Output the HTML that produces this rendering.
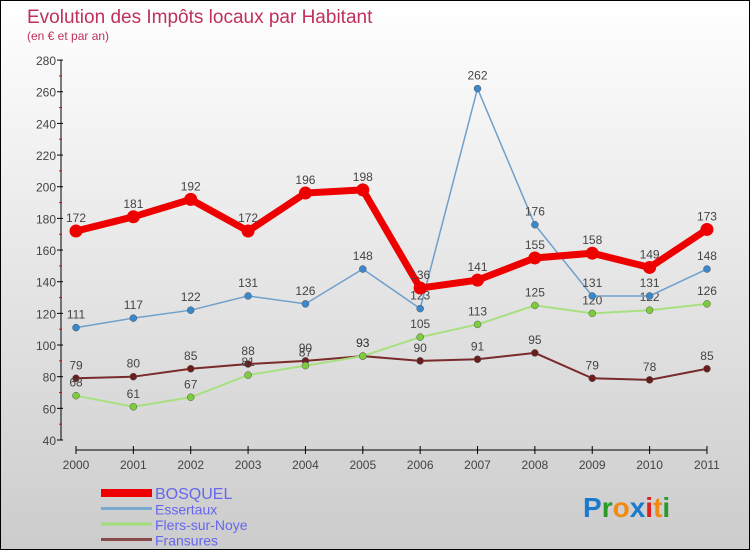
<!DOCTYPE html>
<html><head><meta charset="utf-8"><style>
body{margin:0}
#c{width:748px;height:548px;border:1px solid #000;background:linear-gradient(#fff,#ccc);position:relative;font-family:"Liberation Sans",sans-serif}
</style></head><body>
<div id="c">
<svg id="s" width="748" height="548"></svg>
</div>
<script>
const years=[2000,2001,2002,2003,2004,2005,2006,2007,2008,2009,2010,2011];
const bosquel=[172,181,192,172,196,198,136,141,155,158,149,173];
const essertaux=[111,117,122,131,126,148,123,262,176,131,131,148];
const flers=[68,61,67,81,87,93,105,113,125,120,122,126];
const fransures=[79,80,85,88,90,93,90,91,95,79,78,85];
const yTicks=[40,60,80,100,120,140,160,180,200,220,240,260,280];
const names=["BOSQUEL","Essertaux","Flers-sur-Noye","Fransures"];
const NS="http://www.w3.org/2000/svg";
const s=document.getElementById('s');
const X=i=>75+i*57.36, Y=v=>439-(v-40)*1.583;
function el(t,a,p){const e=document.createElementNS(NS,t);for(const k in a)e.setAttribute(k,a[k]);(p||s).appendChild(e);return e;}
let t=el('text',{x:26,y:22,fill:'#c0305a','font-size':19});t.textContent='Evolution des Impôts locaux par Habitant';


t=el('text',{x:26,y:39,fill:'#c0305a','font-size':12});t.textContent='(en € et par an)';


el('line',{x1:60,y1:Y(280),x2:60,y2:Y(40),stroke:'#000'});
el('line',{x1:X(0),y1:449,x2:X(11),y2:449,stroke:'#000'});
yTicks.forEach((v,i)=>{el('line',{x1:56,y1:Y(v),x2:62,y2:Y(v),stroke:'#000'});
 if(i<yTicks.length-1)el('line',{x1:58,y1:Y(v+10),x2:61,y2:Y(v+10),stroke:'#e00'});
 const tt=el('text',{x:55,y:Y(v)+5,'text-anchor':'end','font-size':12,fill:'#444'});tt.textContent=v;
 
 });
years.forEach((y,i)=>{el('line',{x1:X(i),y1:445,x2:X(i),y2:453,stroke:'#000'});
 const tt=el('text',{x:X(i),y:468,'text-anchor':'middle','font-size':12,fill:'#444'});tt.textContent=y;
 
 });
const series=[[fransures,'#7a2a2a','#6b1d1d',2,3.5],[flers,'#a8e080','#7ccc3c',2,3.5],[essertaux,'#6fa0cc','#3a88cc',1.5,3.5],[bosquel,'#ee0000','#ee0000',7,6.5]];
series.forEach(([d,c,f,w,r],k)=>{
 const g=el('g',{});
 
 
 el('polyline',{points:d.map((v,i)=>X(i)+','+Y(v)).join(' '),fill:'none',stroke:c,'stroke-width':w},g);
 d.forEach((v,i)=>{const p=el('circle',{cx:X(i),cy:Y(v),r:r,fill:f,stroke:k==3?'none':'#555','stroke-width':0.5},g);
  
  
  const tt=el('text',{x:X(i),y:Y(v)-9,'text-anchor':'middle','font-size':12,fill:'#444'},g);tt.textContent=v;
  
  });
});
const lc=['#ee0000','#7aaad0','#a0dc78','#8a4a4a'],lw=[8,3,3,3];
names.forEach((n,i)=>{const y=492+i*15.5;
 const g=el('g',{});
 
 
 el('line',{x1:100,y1:y,x2:151,y2:y,stroke:lc[i],'stroke-width':lw[i]},g);
 const tt=el('text',{x:154,y:y+6,'font-size':i==0?16:14,fill:'#6666ee'},g);tt.textContent=n;});
const lg=[['P','#1a7acc'],['r','#2a9a2a'],['o','#f08a10'],['x','#1a7acc'],['i','#e02020'],['t','#f08a10'],['i','#2a9a2a']];
const lt=el('text',{x:582,y:516,'font-size':28,'font-weight':'bold'});


lg.forEach(([ch,c])=>{const ts=el('tspan',{fill:c},lt);ts.textContent=ch;});
</script>
</body></html>
